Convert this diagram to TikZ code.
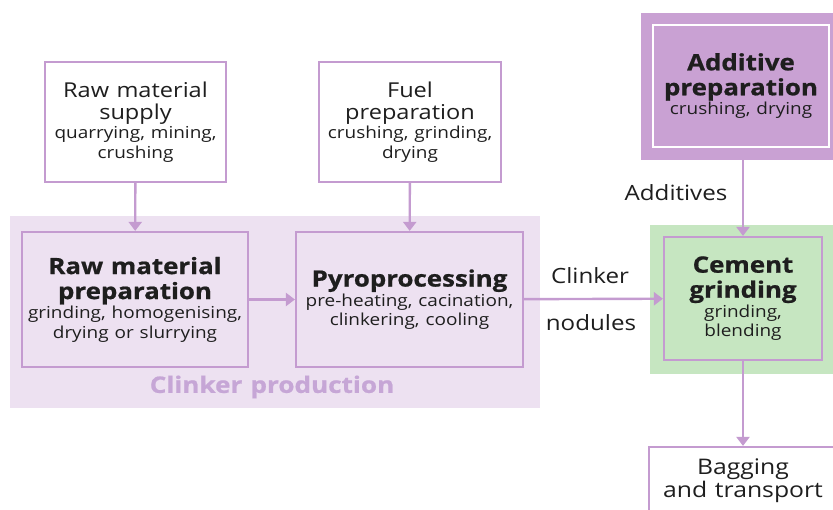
\documentclass[tikz,border=0pt]{standalone}
\usepackage{fontspec}
\setmainfont{Open Sans}[FakeStretch=1.15, WordSpace=1.2, BoldFeatures={FakeBold=0.8}]
\usetikzlibrary{arrows.meta,positioning}
\definecolor{pline}{HTML}{C49BD0}
\definecolor{clbg}{HTML}{EDE1F1}
\definecolor{clink}{HTML}{C6A6D6}
\definecolor{gbg}{HTML}{C6E6C1}
\definecolor{addfill}{HTML}{C9A1D3}
\definecolor{txt}{HTML}{1E1E1E}
\tikzset{
  box/.style={draw=pline, line width=2.2pt, align=center, inner sep=0pt, text=txt},
  flow/.style={draw=pline, line width=2.4pt, -{Triangle[width=13pt,length=9pt]}},
  lbl/.style={font=\fontsize{21}{24}\selectfont, text=txt},
}
\newcommand{\subt}[1]{{\fontsize{16.5}{19.5}\selectfont\spaceskip=0.36em\relax #1\par}}
\newcommand{\bt}[1]{{\fontsize{22.5}{25}\selectfont\bfseries\spaceskip=0.34em\relax #1\par}}
\newcommand{\rt}[1]{{\fontsize{20.5}{22}\selectfont\spaceskip=0.36em\relax #1\par}}
\begin{document}
\begin{tikzpicture}[x=1pt,y=-1pt]
\useasboundingbox (0,0) rectangle (833,510);
\clip (0,0) rectangle (833,510);
\fill[white] (0,0) rectangle (833,510);
% backgrounds
\node[fill=clbg, minimum width=530pt, minimum height=192pt, inner sep=0pt] (clbox) at (275,312) {};
\node[text=clink, font=\fontsize{22.7}{24}\selectfont\bfseries] (clp) at (272,387) {Clinker production};
\node[fill=gbg, minimum width=200pt, minimum height=149pt, inner sep=0pt] (cemo) at (750,299.5) {};
\node[fill=addfill, minimum width=204pt, minimum height=147pt, inner sep=0pt] (addo) at (743,86.5) {};
% boxes
\node[box, fill=white, minimum width=181pt, minimum height=120pt, text width=178pt] (rms) at (135.5,122)
  {\rt{Raw material\\supply}\subt{quarrying, mining,\\crushing}};
\node[box, fill=white, minimum width=182pt, minimum height=120pt, text width=178pt] (fuel) at (410,122)
  {\rt{Fuel\\preparation}\subt{crushing, grinding,\\drying}};
\node[box, minimum width=226pt, minimum height=135pt, text width=222pt] (rmp) at (135,299.5)
  {\bt{Raw material\\preparation}\subt{grinding, homogenising,\\drying or slurrying}};
\node[box, minimum width=227pt, minimum height=135pt, text width=222pt] (pyro) at (409.5,299.5)
  {\bt{Pyroprocessing}\subt{pre-heating, cacination,\\clinkering, cooling}};
\node[box, draw=white, minimum width=176pt, minimum height=122pt, text width=172pt] (add) at (741,86)
  {\bt{Additive\\preparation}\subt{crushing, drying}};
\node[box, minimum width=158pt, minimum height=123pt, text width=154pt] (cem) at (743,298.5)
  {\bt{Cement\\grinding}\subt{grinding,\\blending}};
\node[box, fill=white, minimum width=188pt, minimum height=80pt, text width=184pt] (bag) at (743,487)
  {{\fontsize{21.5}{23}\selectfont\spaceskip=0.36em\relax Bagging\\and transport\par}\vspace*{12pt}};
% connectors
\draw[flow] (rms) -- (rmp);
\draw[flow] (fuel) -- (pyro);
\draw[flow] (rmp) -- (pyro);
\draw[flow] (pyro) -- (cem);
\draw[flow] (addo.south) -- (cem.north);
\draw[flow] (cem) -- (bag);
% labels
\node[lbl] (clk) at (590,276) {Clinker};
\node[lbl] (nod) at (591,323) {nodules};
\node[lbl] (adds) at (676,193) {Additives};
\end{tikzpicture}
\end{document}
